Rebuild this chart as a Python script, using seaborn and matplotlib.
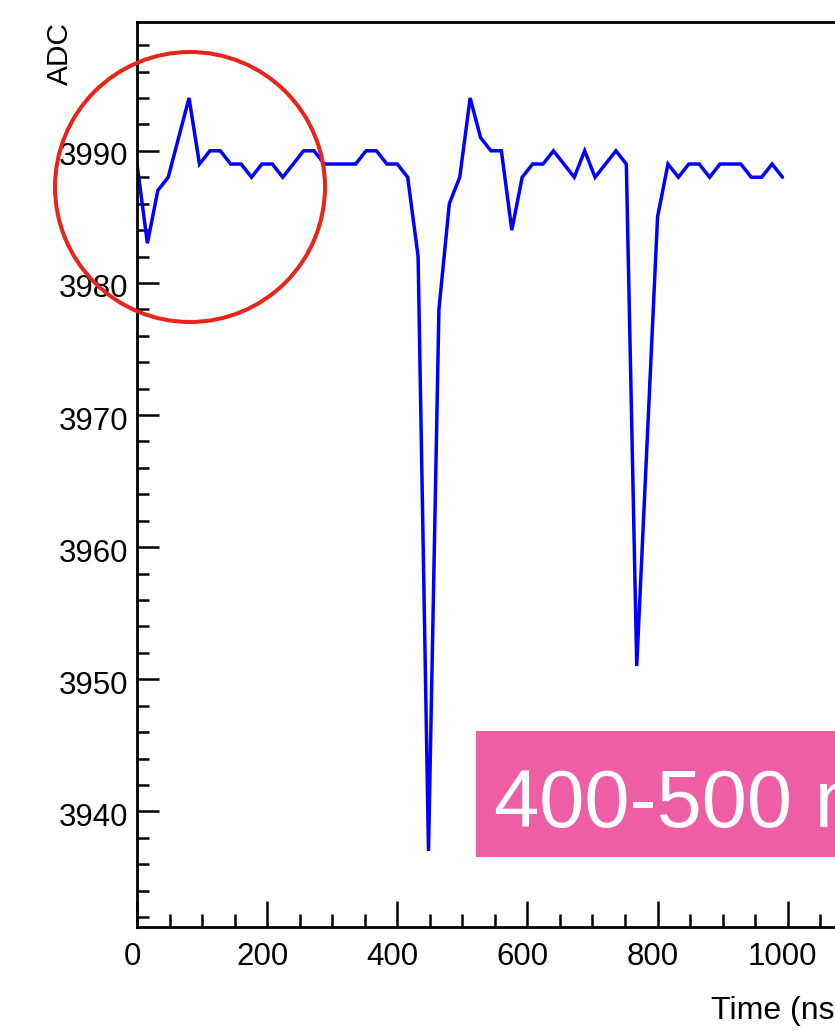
import matplotlib
matplotlib.use("Agg")
import matplotlib.pyplot as plt
import seaborn as sns
import pandas as pd
from matplotlib.patches import Ellipse, Rectangle
from matplotlib.ticker import MultipleLocator, FixedLocator, FixedFormatter
from matplotlib.transforms import ScaledTranslation

# ---------------- data ----------------
time_ns = [0, 16, 32, 48, 64, 80, 96, 112, 128, 144,
           160, 176, 192, 208, 224, 240, 256, 272, 288, 304,
           320, 336, 352, 368, 384, 400, 416, 432, 448, 464,
           480, 496, 512, 528, 544, 560, 576, 592, 608, 624,
           640, 656, 672, 688, 704, 720, 736, 752, 768, 784,
           800, 816, 832, 848, 864, 880, 896, 912, 928, 944,
           960, 976, 992]
adc = [3989, 3983, 3987, 3988, 3991, 3994, 3989, 3990, 3990, 3989,
       3989, 3988, 3989, 3989, 3988, 3989, 3990, 3990, 3989, 3989,
       3989, 3989, 3990, 3990, 3989, 3989, 3988, 3982, 3937, 3978,
       3986, 3988, 3994, 3991, 3990, 3990, 3984, 3988, 3989, 3989,
       3990, 3989, 3988, 3990, 3988, 3989, 3990, 3989, 3951, 3968,
       3985, 3989, 3988, 3989, 3989, 3988, 3989, 3989, 3989, 3988,
       3988, 3989, 3988]
x_ticks = [0, 200, 400, 600, 800, 1000]
x_tick_labels = ["0", "200", "400", "600", "800", "1000"]
y_ticks = [3940, 3950, 3960, 3970, 3980, 3990]
y_tick_labels = ["3940", "3950", "3960", "3970", "3980", "3990"]
x_title = "Time (ns)"
y_title = "ADC"
annotation = "400-500 ns"

df = pd.DataFrame({"time": time_ns, "adc": adc})

# ---------------- style ----------------
sns.set_theme(style="ticks")
plt.rcParams["font.family"] = ["Liberation Sans", "DejaVu Sans"]
plt.rcParams["text.color"] = "black"

W, H = 835, 1034
fig = plt.figure(figsize=(W / 100, H / 100), dpi=100)
fig.patch.set_facecolor("white")

ax_left, ax_right, ax_top, ax_bottom = 137, 843, 22, 927
ax = fig.add_axes([ax_left / W, (H - ax_bottom) / H,
                   (ax_right - ax_left) / W, (ax_bottom - ax_top) / H])
ax.set_facecolor("white")

sns.lineplot(data=df, x="time", y="adc", ax=ax, color="#0000FF",
             linewidth=2.5, estimator=None, sort=False,
             solid_joinstyle="miter")

ax.set_xlim(0, 1085)
ax.set_ylim(3931.25, 3999.75)

ax.xaxis.set_major_locator(FixedLocator(x_ticks))
ax.xaxis.set_major_formatter(FixedFormatter(x_tick_labels))
ax.xaxis.set_minor_locator(MultipleLocator(50))
ax.yaxis.set_major_locator(FixedLocator(y_ticks))
ax.yaxis.set_major_formatter(FixedFormatter(y_tick_labels))
ax.yaxis.set_minor_locator(MultipleLocator(2))

ax.tick_params(axis="x", which="major", direction="in", length=18.5, width=1.8,
               pad=10.5, labelsize=22.5, colors="black", top=False)
ax.tick_params(axis="x", which="minor", direction="in", length=9.3, width=1.8,
               colors="black", top=False)
ax.tick_params(axis="y", which="major", direction="in", length=15.8, width=1.8,
               pad=6, labelsize=22.5, colors="black", right=False)
ax.tick_params(axis="y", which="minor", direction="in", length=8.3, width=1.8,
               colors="black", right=False)

for side in ["left", "bottom", "top"]:
    ax.spines[side].set_visible(True)
    ax.spines[side].set_linewidth(2.0)
    ax.spines[side].set_color("black")
ax.spines["right"].set_visible(False)

ax.set_xlabel("")
ax.set_ylabel("")

dx = ScaledTranslation(-5 / 100, 0, fig.dpi_scale_trans)
for lab in ax.get_xticklabels():
    lab.set_transform(lab.get_transform() + dx)
dy = ScaledTranslation(0, -3 / 100, fig.dpi_scale_trans)
for lab in ax.get_yticklabels():
    lab.set_transform(lab.get_transform() + dy)

# axis titles (ROOT style placement)
fig.text(711 / W, (H - 1019) / H, x_title, fontsize=23, ha="left",
         va="baseline", color="black")
fig.text(68 / W, (H - 22) / H, y_title, fontsize=21.5, rotation=90,
         rotation_mode="anchor", ha="right", va="baseline", color="black")

# red highlight circle
circ = Ellipse((190 / W, (H - 187) / H), width=270 / W, height=270 / H,
               transform=fig.transFigure, fill=False, edgecolor="#E8251B",
               linewidth=2.9, zorder=10)
fig.add_artist(circ)

# pink annotation box
rect = Rectangle((476 / W, (H - 857) / H), (900 - 476) / W, (857 - 731) / H,
                 transform=fig.transFigure, facecolor="#EE5EA4",
                 edgecolor="none", zorder=10)
fig.add_artist(rect)
fig.text(494 / W, (H - 827) / H, annotation, fontsize=58.5, color="white",
         ha="left", va="baseline", zorder=11)

fig.savefig("out.png", dpi=100)
